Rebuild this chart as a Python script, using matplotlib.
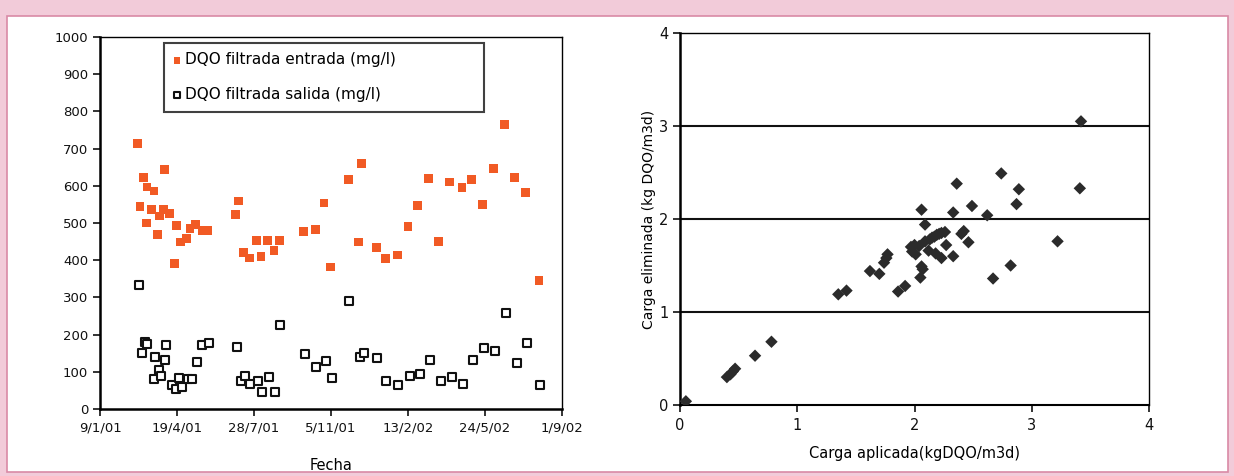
import matplotlib
matplotlib.use("Agg")
import matplotlib.pyplot as plt
from matplotlib.patches import Rectangle
import pandas as pd

# ---- left chart data ----
entrada_dates = ["2001-02-27", "2001-03-02", "2001-03-06", "2001-03-10", "2001-03-11", "2001-03-17",
                 "2001-03-20", "2001-03-25", "2001-03-27", "2001-04-01", "2001-04-03", "2001-04-09",
                 "2001-04-16", "2001-04-18", "2001-04-24", "2001-05-01", "2001-05-06", "2001-05-13",
                 "2001-05-22", "2001-05-29", "2001-07-04", "2001-07-08", "2001-07-14", "2001-07-22",
                 "2001-07-31", "2001-08-06", "2001-08-15", "2001-08-23", "2001-08-30", "2001-09-30",
                 "2001-10-16", "2001-10-27", "2001-11-04", "2001-11-28", "2001-12-11", "2001-12-15",
                 "2002-01-03", "2002-01-15", "2002-01-30", "2002-02-13", "2002-02-25", "2002-03-12",
                 "2002-03-25", "2002-04-08", "2002-04-24", "2002-05-06", "2002-05-21", "2002-06-04",
                 "2002-06-18", "2002-07-01", "2002-07-16", "2002-08-02"]
entrada_vals = [714, 545, 622, 500, 597, 536,
                586, 469, 519, 536, 644, 525,
                392, 494, 449, 459, 486, 495,
                480, 480, 522, 559, 420, 406,
                452, 411, 452, 426, 452, 478,
                483, 554, 382, 617, 449, 660,
                434, 404, 414, 491, 548, 619,
                451, 610, 595, 616, 549, 646,
                765, 622, 582, 346]

salida_dates = ["2001-02-28", "2001-03-04", "2001-03-09", "2001-03-11", "2001-03-20", "2001-03-21",
                "2001-03-27", "2001-03-29", "2001-04-03", "2001-04-05", "2001-04-12", "2001-04-18",
                "2001-04-21", "2001-04-26", "2001-05-03", "2001-05-09", "2001-05-15", "2001-05-22",
                "2001-05-30", "2001-07-06", "2001-07-11", "2001-07-16", "2001-07-23", "2001-08-02",
                "2001-08-07", "2001-08-17", "2001-08-24", "2001-08-31", "2001-10-02", "2001-10-17",
                "2001-10-30", "2001-11-06", "2001-11-29", "2001-12-13", "2001-12-18", "2002-01-04",
                "2002-01-16", "2002-01-31", "2002-02-15", "2002-02-28", "2002-03-14", "2002-03-28",
                "2002-04-11", "2002-04-26", "2002-05-08", "2002-05-23", "2002-06-06", "2002-06-20",
                "2002-07-04", "2002-07-18", "2002-08-03"]
salida_vals = [334, 150, 180, 176, 80, 140,
               105, 89, 131, 171, 64, 55,
               84, 60, 80, 80, 126, 172,
               177, 168, 76, 90, 66, 76,
               45, 87, 46, 225, 149, 113,
               130, 84, 289, 140, 151, 136,
               74, 65, 90, 95, 132, 75,
               87, 66, 133, 165, 156, 257,
               124, 177, 65]

date_ticks = ["2001-01-09", "2001-04-19", "2001-07-28", "2001-11-05", "2002-02-13", "2002-05-24", "2002-09-01"]
date_tick_labels = ["9/1/01", "19/4/01", "28/7/01", "5/11/01", "13/2/02", "24/5/02", "1/9/02"]

# ---- right chart data ----
carga_aplicada = [0.05, 0.40, 0.43, 0.45, 0.47, 0.64, 0.78, 1.35, 1.42, 1.62, 1.70, 1.74, 1.76, 1.77,
                  1.86, 1.92, 1.97, 1.98, 2.00, 2.01, 2.05, 2.06, 2.07, 2.06, 2.09, 2.04, 2.09, 2.13,
                  2.17, 2.21, 2.26, 2.12, 2.18, 2.23, 2.27, 2.33, 2.33, 2.36, 2.40, 2.42, 2.46, 2.49,
                  2.62, 2.67, 2.74, 2.82, 2.87, 2.89, 3.22, 3.41, 3.42, 2.15, 2.19, 2.23]
carga_eliminada = [0.04, 0.30, 0.33, 0.36, 0.39, 0.53, 0.68, 1.19, 1.23, 1.44, 1.41, 1.53, 1.58, 1.62,
                   1.22, 1.28, 1.70, 1.65, 1.72, 1.62, 1.37, 1.49, 1.46, 2.10, 1.94, 1.71, 1.76, 1.78,
                   1.81, 1.84, 1.86, 1.66, 1.63, 1.58, 1.72, 1.60, 2.07, 2.38, 1.84, 1.87, 1.75, 2.14,
                   2.04, 1.36, 2.49, 1.50, 2.16, 2.32, 1.76, 2.33, 3.05, 1.80, 1.83, 1.85]

PINK = "#f2cbd9"
ORANGE = "#f15a24"

fig = plt.figure(figsize=(12.34, 4.76), dpi=100, facecolor=PINK)
# white inner panel
fig.patches.append(Rectangle((7 / 1234, 1 - 472 / 476), (1228 - 7) / 1234, (472 - 16) / 476,
                             transform=fig.transFigure, facecolor="white",
                             edgecolor="#d98aa6", linewidth=1.2, zorder=-5))

narrow = ["Liberation Sans Narrow", "DejaVu Sans"]

# ---------- left axes ----------
axL = fig.add_axes([100 / 1234, 1 - 409 / 476, 462 / 1234, 372 / 476])
axL.patch.set_alpha(0)
ed = pd.to_datetime(entrada_dates)
sd = pd.to_datetime(salida_dates)
axL.scatter(ed, entrada_vals, marker="s", s=40, color=ORANGE, edgecolors="none",
            label="DQO filtrada entrada (mg/l)", zorder=3)
axL.scatter(sd, salida_vals, marker="s", s=30, facecolors="white", edgecolors="#111111",
            linewidths=1.5, label="DQO filtrada salida (mg/l)", zorder=3)
axL.set_xlim(pd.Timestamp(date_ticks[0]), pd.Timestamp(date_ticks[-1]))
axL.set_ylim(0, 1000)
axL.set_yticks(range(0, 1001, 100))
axL.set_xticks(pd.to_datetime(date_ticks))
axL.set_xticklabels(date_tick_labels, family=narrow, fontsize=9.5)
for lab in axL.get_yticklabels():
    lab.set_family(narrow)
    lab.set_fontsize(9.5)
axL.tick_params(direction="out", length=5, width=1.2, colors="#111111")
axL.tick_params(axis="x", pad=4)
for sp in ["left", "bottom"]:
    axL.spines[sp].set_linewidth(1.8)
for sp in ["top", "right"]:
    axL.spines[sp].set_linewidth(1.0)
axL.set_xlabel("Fecha", family=narrow, fontsize=10.5, labelpad=17)
leg = axL.legend(loc="upper left", bbox_to_anchor=(64 / 462, 0.2, 320 / 462, 0.983 - 0.2),
                 mode="expand", frameon=True, fancybox=False,
                 edgecolor="#111111", fontsize=11, handletextpad=0.25, borderpad=0.6,
                 labelspacing=1.3, handlelength=0.5, markerscale=0.75, borderaxespad=0)
leg.get_frame().set_linewidth(1.5)

# ---------- right axes ----------
axR = fig.add_axes([680 / 1234, 1 - 405 / 476, 469 / 1234, 372 / 476])
axR.patch.set_alpha(0)
axR.scatter(carga_aplicada, carga_eliminada, marker="D", s=40, color="#2b2b2b",
            edgecolors="none", zorder=3)
axR.set_xlim(0, 4)
axR.set_ylim(0, 4)
axR.set_xticks(range(0, 5))
axR.set_yticks(range(0, 5))
for y in [1, 2, 3]:
    axR.axhline(y, color="#111111", linewidth=1.5, zorder=1)
for lab in axR.get_xticklabels() + axR.get_yticklabels():
    lab.set_family(narrow)
    lab.set_fontsize(10.5)
axR.tick_params(direction="out", length=5, width=1.2, colors="#111111")
axR.tick_params(axis="x", pad=4)
axR.spines["left"].set_linewidth(1.8)
axR.spines["bottom"].set_linewidth(1.5)
for sp in ["top", "right"]:
    axR.spines[sp].set_linewidth(1.0)
axR.set_xlabel("Carga aplicada(kgDQO/m3d)", family=narrow, fontsize=10.5, labelpad=10)
axR.set_ylabel("Carga eliminada (kg DQO/m3d)", fontsize=10, labelpad=2, fontweight="medium")

fig.savefig("out.png", dpi=100, facecolor=PINK)
